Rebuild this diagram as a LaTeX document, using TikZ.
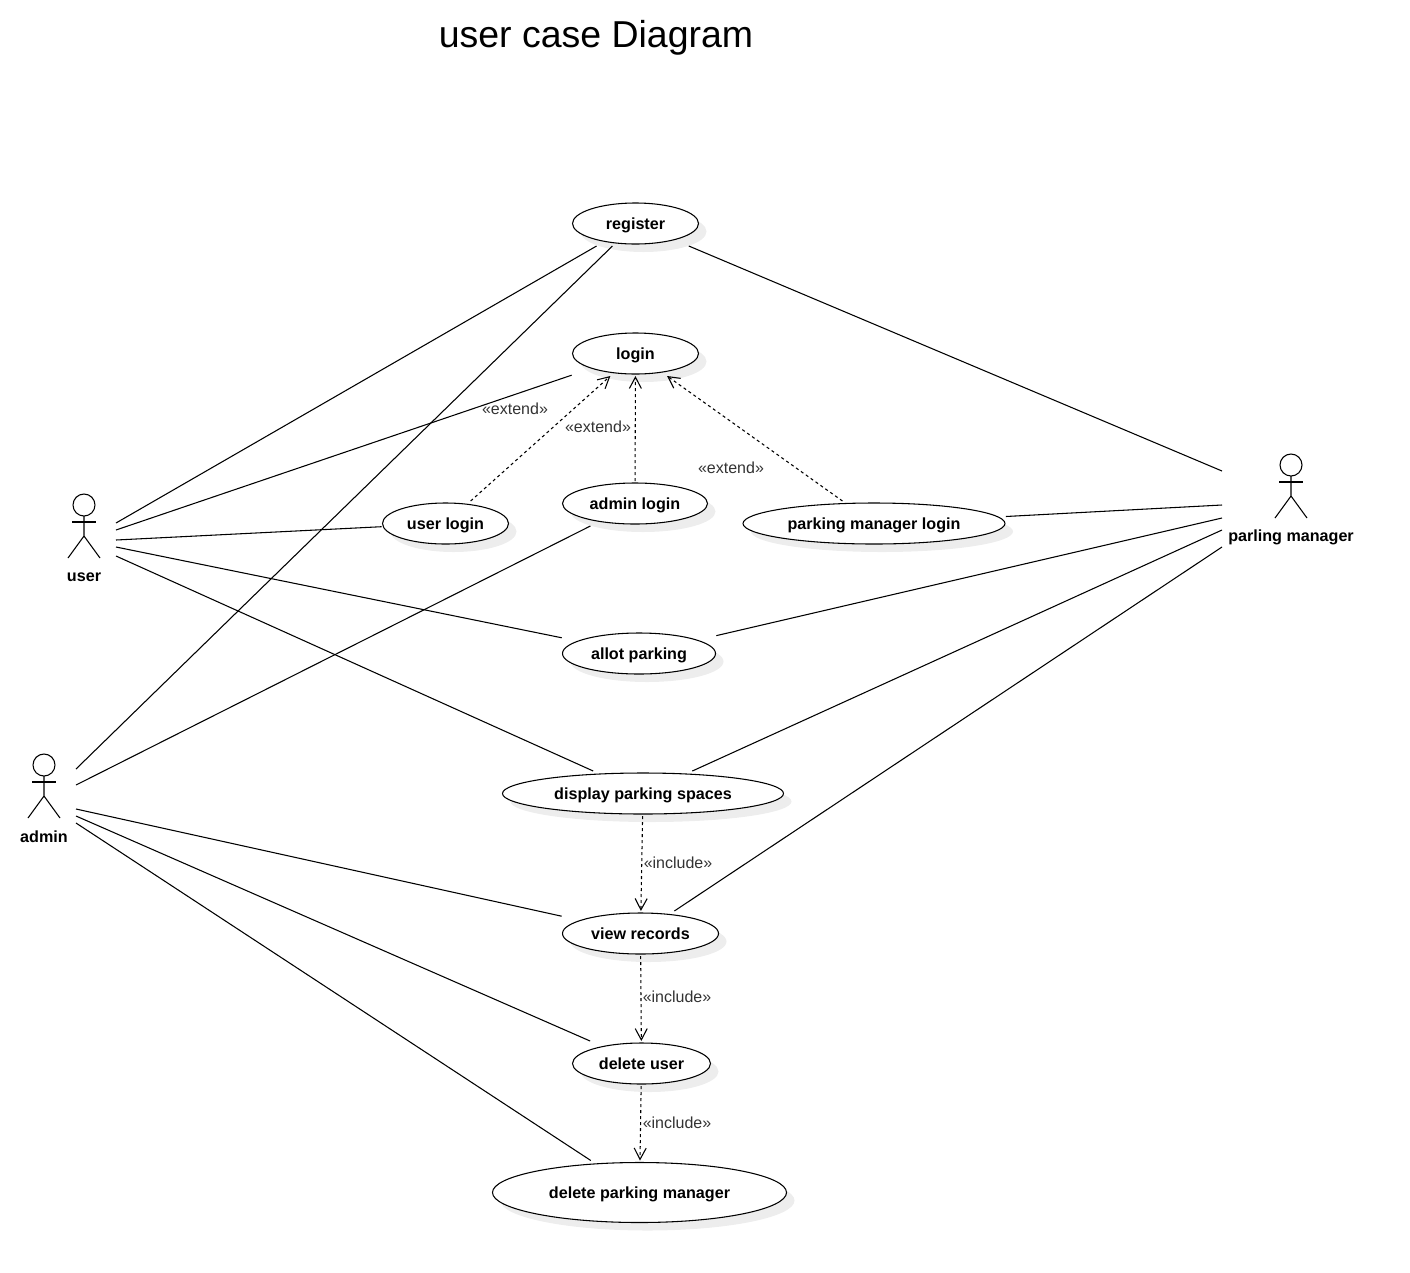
\documentclass[tikz,border=0pt]{standalone}
\usepackage{fontspec}
\setmainfont{Liberation Sans}
\usetikzlibrary{arrows.meta,shadows}
\definecolor{lab}{HTML}{333333}
\newdimen\casecx \newdimen\casecy \newdimen\caserx \newdimen\casery
% ellipse outline, but connectors stop on the surrounding box
\makeatletter
\pgfdeclareshape{usecase}{
  \inheritsavedanchors[from=rectangle]
  \inheritanchorborder[from=rectangle]
  \inheritanchor[from=rectangle]{center}
  \inheritanchor[from=rectangle]{text}
  \inheritanchor[from=rectangle]{north}
  \inheritanchor[from=rectangle]{south}
  \inheritanchor[from=rectangle]{east}
  \inheritanchor[from=rectangle]{west}
  \backgroundpath{
    \southwest \casecx=\pgf@x \casecy=\pgf@y
    \northeast \caserx=\pgf@x \casery=\pgf@y
    \advance\caserx by -\casecx \advance\casery by -\casecy
    \divide\caserx by 2 \divide\casery by 2
    \advance\casecx by \caserx \advance\casecy by \casery
    \pgfmathsetlength\pgf@xa{\pgfkeysvalueof{/pgf/outer xsep}}
    \pgfmathsetlength\pgf@ya{\pgfkeysvalueof{/pgf/outer ysep}}
    \advance\caserx by -\pgf@xa \advance\casery by -\pgf@ya
    \pgfpathellipse{\pgfqpoint{\casecx}{\casecy}}{\pgfqpoint{\caserx}{0pt}}{\pgfqpoint{0pt}{\casery}}
  }
}
\makeatother
\tikzset{
  case/.style 2 args={shape=usecase, draw=black, fill=white, line width=0.8pt, inner sep=0pt,
    outer xsep=0.6pt, outer ysep=1.5pt, minimum width=#1*0.75pt, minimum height=#2*0.75pt,
    font=\fontsize{12.1}{14}\selectfont\bfseries, text height=10.8pt, text depth=2pt,
    drop shadow={shadow xshift=6pt, shadow yshift=-6pt, fill=black!7, opacity=1}},
  assoc/.style={draw=black, line width=0.8pt},
  dep/.style={draw=black, line width=0.8pt, dash pattern=on 2.25pt off 2.25pt,
    -{Straight Barb[length=8.5pt,width=9pt,line width=0.8pt]}},
  deplab/.style={text=lab, font=\fontsize{12}{14}\selectfont, inner sep=0pt},
  actorlab/.style={font=\fontsize{12.1}{14}\selectfont\bfseries, inner sep=0pt},
  actor/.pic={
    \draw[assoc] (0,-21) circle[radius=11];
    \draw[assoc] (-12,-4) -- (12,-4);
    \draw[assoc] (0,-10) -- (0,10) (-16,32) -- (0,10) -- (16,32);
  },
}
\begin{document}
\begin{tikzpicture}[x=0.75pt,y=-0.75pt]
  \useasboundingbox (0,0) rectangle (1410,1272);
  \node[font=\fontsize{28.1}{32}\selectfont, inner sep=0pt] (title) at (596,38) {user case Diagram};
  % use cases
  \node[case={126}{41}] (register) at (635.5,223.5) {register};
  \node[case={126}{41}] (login) at (635.5,353.5) {login};
  \node[case={126}{41}] (userlogin) at (445.5,523.5) {user login};
  \node[case={145}{41}] (adminlogin) at (635,503.5) {admin login};
  \node[case={262}{41}] (pmlogin) at (874,523.5) {parking manager login};
  \node[case={153}{41}] (allot) at (639,653.5) {allot parking};
  \node[case={281}{41}] (display) at (643,793.5) {display parking spaces};
  \node[case={156}{41}] (records) at (640.5,933.5) {view records};
  \node[case={138}{41}] (deluser) at (641.5,1063.5) {delete user};
  \node[case={294}{60}] (delpm) at (639.5,1192.5) {delete parking manager};
  % actors
  \pic at (84,526) {actor};
  \pic at (44,786) {actor};
  \pic at (1291,486) {actor};
  \node[actorlab] (user) at (84,577) {user};
  \node[actorlab] (admin) at (44,836.5) {admin};
  \node[actorlab] (manager) at (1291,537) {parling manager};
  % connector ends beside the actors
  \coordinate (ua) at (116,523);
  \coordinate (ub) at (116,530);
  \coordinate (uc) at (116,540);
  \coordinate (ud) at (116,547);
  \coordinate (ue) at (116,556);
  \coordinate (aa) at (76,769);
  \coordinate (ab) at (76,785);
  \coordinate (ac) at (76,809);
  \coordinate (ad) at (76,816);
  \coordinate (ae) at (76,823);
  \coordinate (ma) at (1222,471);
  \coordinate (mb) at (1222,505);
  \coordinate (mc) at (1222,518);
  \coordinate (md) at (1222,530);
  \coordinate (me) at (1222,547);
  \draw[assoc] (ua) -- (register);
  \draw[assoc] (ub) -- (login);
  \draw[assoc] (uc) -- (userlogin);
  \draw[assoc] (ud) -- (allot);
  \draw[assoc] (ue) -- (display);
  \draw[assoc] (aa) -- (register);
  \draw[assoc] (ab) -- (adminlogin);
  \draw[assoc] (ac) -- (records);
  \draw[assoc] (ad) -- (deluser);
  \draw[assoc] (ae) -- (delpm);
  \draw[assoc] (ma) -- (register);
  \draw[assoc] (mb) -- (pmlogin);
  \draw[assoc] (mc) -- (allot);
  \draw[assoc] (md) -- (display);
  \draw[assoc] (me) -- (records);
  % dependencies
  \draw[dep] (userlogin) -- (login);
  \draw[dep] (adminlogin) -- (login);
  \draw[dep] (pmlogin) -- (login);
  \draw[dep] (display) -- (records);
  \draw[dep] (records) -- (deluser);
  \draw[dep] (deluser) -- (delpm);
  \node[deplab] (exa) at (515,409) {«extend»};
  \node[deplab] (exb) at (598,427) {«extend»};
  \node[deplab] (exc) at (731,468) {«extend»};
  \node[deplab] (ina) at (678,863) {«include»};
  \node[deplab] (inb) at (677,997) {«include»};
  \node[deplab] (inc) at (677,1123) {«include»};
\end{tikzpicture}
\end{document}
